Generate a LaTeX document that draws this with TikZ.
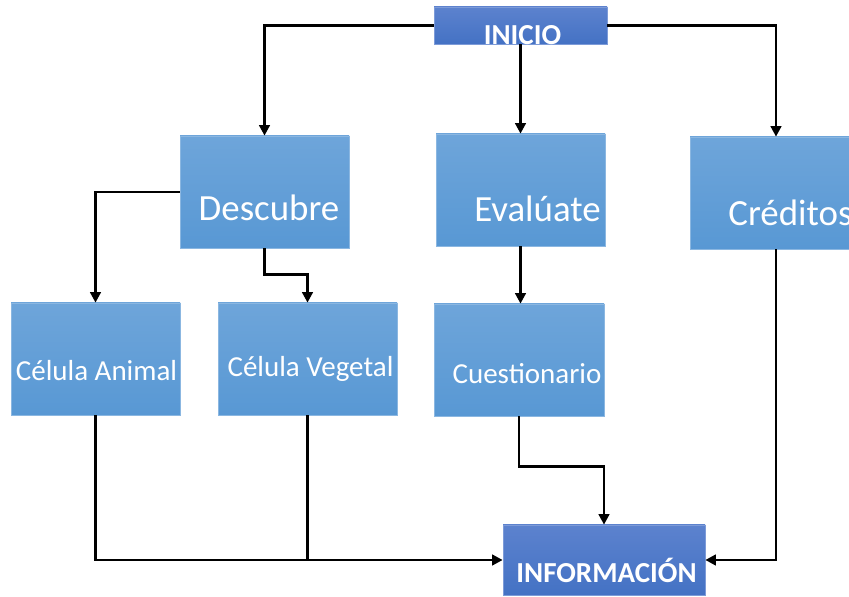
\documentclass[tikz,border=0pt]{standalone}
\usepackage{fontspec}
\setmainfont{Carlito}
\usetikzlibrary{arrows.meta}
\definecolor{boxtop}{RGB}{110,165,218}
\definecolor{boxbot}{RGB}{88,152,212}
\definecolor{darktop}{RGB}{92,130,206}
\definecolor{darkbot}{RGB}{68,114,196}
\tikzset{
  box/.style={rectangle, inner sep=0pt, draw=boxtop!80!white, line width=0.4pt,
    top color=boxtop, bottom color=boxbot},
  darkbox/.style={rectangle, inner sep=0pt, draw=darktop!80!white, line width=0.4pt,
    top color=darktop, bottom color=darkbot},
  big/.style={anchor=base, text=white, inner sep=0pt, font=\fontsize{21}{25}\selectfont},
  small/.style={anchor=base, text=white, inner sep=0pt, font=\fontsize{16.5}{20}\selectfont},
  bold/.style={anchor=base, text=white, inner sep=0pt, font=\fontsize{16.5}{20}\selectfont\bfseries},
  link/.style={line width=1.5pt, black},
  arr/.style={link, -{Triangle[length=6pt,width=6pt]}}
}
\begin{document}
\begin{tikzpicture}[x=0.02cm,y=-0.02cm]
	\useasboundingbox[fill=white] (0,0) rectangle (849,597);

	% boxes
	\node[darkbox, minimum width=173*0.02cm, minimum height=37*0.02cm] (inicio) at (520.5,25.5) {};
	\node[box, minimum width=169*0.02cm, minimum height=112*0.02cm] (descubre) at (264.5,192) {};
	\node[box, minimum width=169*0.02cm, minimum height=112*0.02cm] (evalua) at (520.5,190) {};
	\node[box, minimum width=172*0.02cm, minimum height=112*0.02cm] (creditos) at (776,193) {};
	\node[box, minimum width=169*0.02cm, minimum height=112*0.02cm] (animal) at (95.5,359) {};
	\node[box, minimum width=179*0.02cm, minimum height=112*0.02cm] (vegetal) at (307.5,359) {};
	\node[box, minimum width=170*0.02cm, minimum height=112*0.02cm] (cuest) at (519,360) {};
	\node[darkbox, minimum width=202*0.02cm, minimum height=70*0.02cm] (info) at (604,560) {};

	% texts
	\begin{scope}
		\clip (inicio.south west) rectangle (inicio.north east);
		\node[bold] (inicio-t) at (522.5,45) {INICIO};
	\end{scope}
	\node[big] (descubre-t) at (269,221) {Descubre};
	\node[big] (evalua-t) at (537.5,222) {Evalúate};
	\node[big, anchor=base west] (creditos-t) at (728,226) {Créditos};
	\node[small] (animal-t) at (96.5,381) {Célula Animal};
	\node[small] (vegetal-t) at (310.5,377) {Célula Vegetal};
	\node[small] (cuest-t) at (527,384) {Cuestionario};
	\node[bold] (info-t) at (606.5,583) {INFORMACIÓN};

	% connectors
	\draw[arr] (inicio.west) -| (descubre.north);
	\draw[arr] (inicio.east) -| (creditos.north);
	\draw[arr] (inicio.south) -- (evalua.north);
	\draw[arr] (descubre.west) -| (animal.north);
	\draw[arr] (descubre.south) -- ++(0,26) -| (vegetal.north);
	\draw[arr] (evalua.south) -- (evalua.south |- cuest.north);
	\draw[arr] (animal.south) |- (info.west);
	\draw[link] (vegetal.south) -- (vegetal.south |- info.west);
	\draw[arr] (cuest.south) -- ++(0,50) -| (info.north);
	\draw[arr] (creditos.south) |- (info.east);

\end{tikzpicture}
\end{document}
